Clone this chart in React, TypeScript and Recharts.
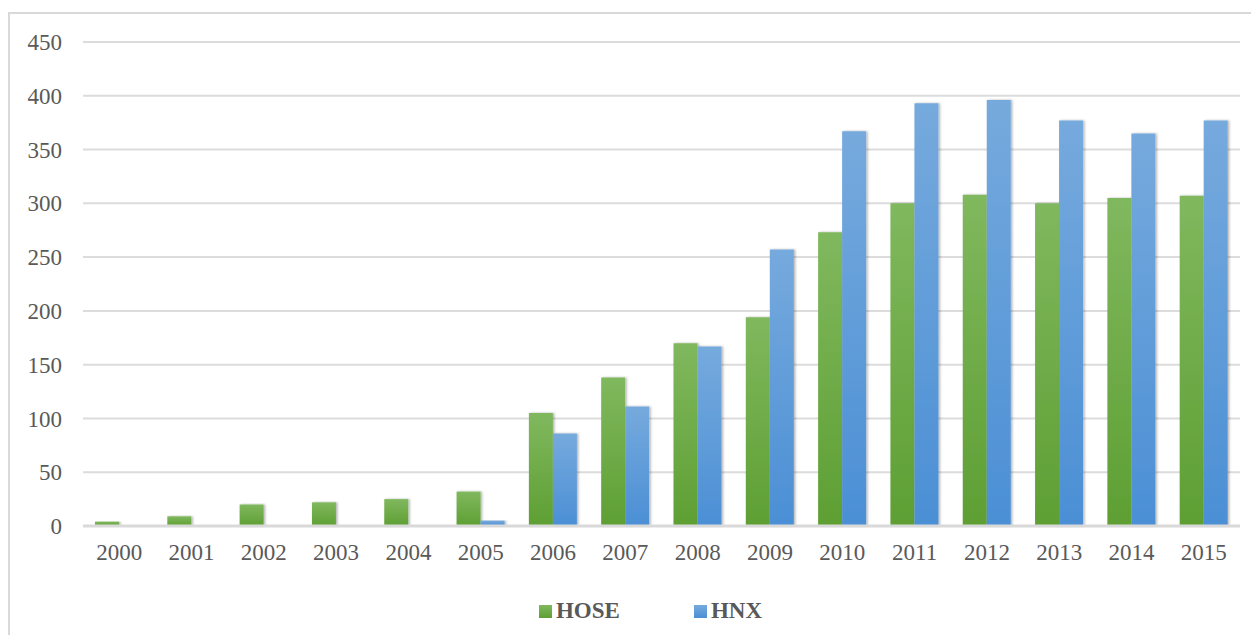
import { BarChart, Bar, XAxis, YAxis, CartesianGrid, Legend } from "recharts";

const years = [
  "2000", "2001", "2002", "2003", "2004", "2005", "2006", "2007",
  "2008", "2009", "2010", "2011", "2012", "2013", "2014", "2015",
];
const hose = [4, 9, 20, 22, 25, 32, 105, 138, 170, 194, 273, 300, 308, 300, 305, 307];
const hnx = [0, 0, 0, 0, 0, 5, 86, 111, 167, 257, 367, 393, 396, 377, 365, 377];
const yTicks = [0, 50, 100, 150, 200, 250, 300, 350, 400, 450];

const series = [
  { key: "HOSE", name: "HOSE", grad: "gHose", top: "#80b85e", bottom: "#5e9f33", icon: "#6eab45" },
  { key: "HNX", name: "HNX", grad: "gHnx", top: "#76aadd", bottom: "#4b8fd5", icon: "#5e9ad8" },
];

const data = years.map((y, i) => ({ year: y, HOSE: hose[i], HNX: hnx[i] }));

const font = '"Liberation Serif", "Times New Roman", serif';
const textColor = "#595959";

const renderLegend = () => (
  <div
    style={{
      display: "flex",
      justifyContent: "center",
      alignItems: "center",
      height: 30,
      paddingLeft: 51,
      fontFamily: font,
      fontSize: 23,
      fontWeight: "bold",
      color: textColor,
    }}
  >
    {series.map((s, i) => (
      <div
        key={s.key}
        style={{ display: "flex", alignItems: "center", marginLeft: i === 0 ? 0 : 74 }}
      >
        <span
          style={{
            display: "inline-block",
            width: 13,
            height: 13,
            background: `linear-gradient(${s.top}, ${s.bottom})`,
            marginRight: 4,
          }}
        />
        <span>{s.name}</span>
      </div>
    ))}
  </div>
);

export default function App() {
  return (
    <>
      <style>{`html,body{overflow:hidden}`}</style>
      <div
        style={{
          marginTop: 4,
          width: 1251,
          height: 630,
          border: "2px solid #d9d9d9",
          boxSizing: "border-box",
          background: "#fff",
        }}
      >
        <BarChart
          width={1247}
          height={620}
          data={data}
          margin={{ top: 28, right: 17, left: 0, bottom: 8 }}
          barCategoryGap="16.6%"
          barGap={0}
        >
          <defs>
            {series.map((s) => (
              <linearGradient key={s.grad} id={s.grad} x1="0" y1="0" x2="0" y2="1">
                <stop offset="0%" stopColor={s.top} />
                <stop offset="100%" stopColor={s.bottom} />
              </linearGradient>
            ))}
            <filter id="barShadow" x="-20%" y="-5%" width="140%" height="110%">
              <feDropShadow dx="1.5" dy="0" stdDeviation="1.2" floodColor="#000" floodOpacity="0.3" />
            </filter>
          </defs>
          <CartesianGrid vertical={false} stroke="#dcdcdc" strokeWidth={2} />
          <XAxis
            dataKey="year"
            height={70}
            tickLine={false}
            tickSize={0}
            tickMargin={18}
            axisLine={{ stroke: "#d9d9d9", strokeWidth: 3 }}
            tick={{ fill: textColor, fontSize: 23, fontFamily: font }}
            interval={0}
          />
          <YAxis
            width={73}
            domain={[0, 450]}
            ticks={yTicks}
            tickLine={false}
            tickSize={0}
            tickMargin={21}
            axisLine={false}
            tick={{ fill: textColor, fontSize: 23, fontFamily: font }}
          />
          <Legend verticalAlign="bottom" content={renderLegend} />
          {series.map((s) => (
            <Bar
              key={s.key}
              dataKey={s.key}
              name={s.name}
              fill={`url(#${s.grad})`}
              filter="url(#barShadow)"
              isAnimationActive={false}
            />
          ))}
        </BarChart>
      </div>
    </>
  );
}
